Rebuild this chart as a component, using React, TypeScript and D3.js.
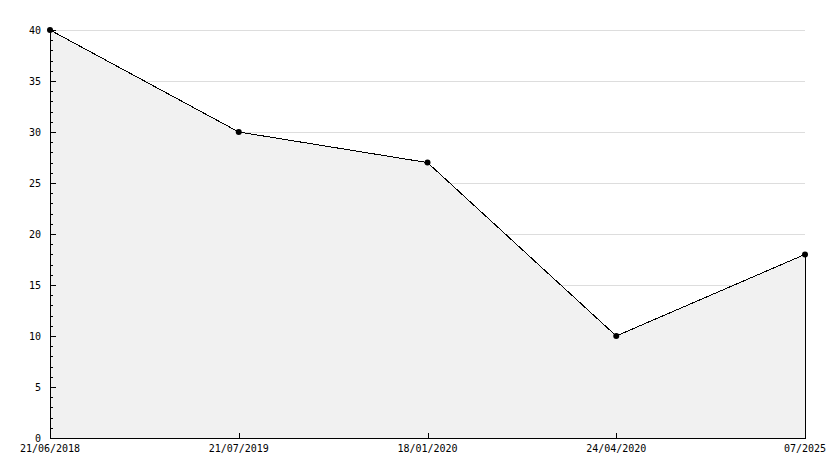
import React from "react";
import * as d3 from "d3";

const categories = ["21/06/2018", "21/07/2019", "18/01/2020", "24/04/2020", "07/2025"];
const values = [40, 30, 27, 10, 18];
const yTicks = [0, 5, 10, 15, 20, 25, 30, 35, 40];

const W = 834, H = 468;
const left = 50, right = 805, top = 30, bottom = 438;

export default function App() {
  const x = d3.scalePoint<string>().domain(categories).range([left, right]);
  const y = d3.scaleLinear().domain([0, 40]).range([bottom, top]);
  const pts = categories.map((c, i) => [x(c)!, y(values[i])] as [number, number]);
  const area = d3.area<[number, number]>().x(d => d[0]).y0(bottom).y1(d => d[1])(pts)!;
  const line = d3.line<[number, number]>().x(d => d[0]).y(d => d[1])(pts)!;
  const minor = d3.range(0, 41, 1);
  const font = "'DejaVu Sans Mono', monospace";
  return (
    <svg width={W} height={H} style={{ position: "absolute", left: 0, top: 0, background: "#fff" }}>
      {yTicks.filter(t => t > 0).map(t => (
        <line key={"g" + t} x1={left} x2={right} y1={Math.round(y(t)) + 0.5} y2={Math.round(y(t)) + 0.5} stroke="#dddddd" strokeWidth={1} />
      ))}
      <path d={area} fill="#f1f1f1" stroke="none" />
      <line x1={right + 0.5} x2={right + 0.5} y1={y(values[values.length - 1])} y2={bottom} stroke="#000" shapeRendering="crispEdges" />
      <path d={line} fill="none" stroke="#000" strokeWidth={1} shapeRendering="crispEdges" />
      {/* y axis */}
      <line x1={left + 0.5} x2={left + 0.5} y1={top} y2={bottom + 0.5} stroke="#000" shapeRendering="crispEdges" />
      {minor.map(t => (
        <line key={"m" + t} x1={left} x2={left + (t % 5 === 0 ? 6 : 3)} y1={Math.round(y(t)) + 0.5} y2={Math.round(y(t)) + 0.5} stroke="#000" shapeRendering="crispEdges" />
      ))}
      {yTicks.map(t => (
        <text key={"yl" + t} x={41} y={y(t)} dy="0.35em" textAnchor="end" fontFamily={font} fontSize={10} fill="#000">{t}</text>
      ))}
      {/* x axis */}
      <line x1={left} x2={right + 1} y1={bottom + 0.5} y2={bottom + 0.5} stroke="#000" shapeRendering="crispEdges" />
      {categories.map(c => (
        <line key={"xt" + c} x1={Math.round(x(c)!) + 0.5} x2={Math.round(x(c)!) + 0.5} y1={bottom} y2={bottom - 5} stroke="#000" shapeRendering="crispEdges" />
      ))}
      {categories.map(c => (
        <text key={"xl" + c} x={x(c)!} y={452} textAnchor="middle" fontFamily={font} fontSize={10} fill="#000">{c}</text>
      ))}
      {pts.map((p, i) => (
        <circle key={"p" + i} cx={p[0]} cy={p[1]} r={3} fill="#000" />
      ))}
    </svg>
  );
}
